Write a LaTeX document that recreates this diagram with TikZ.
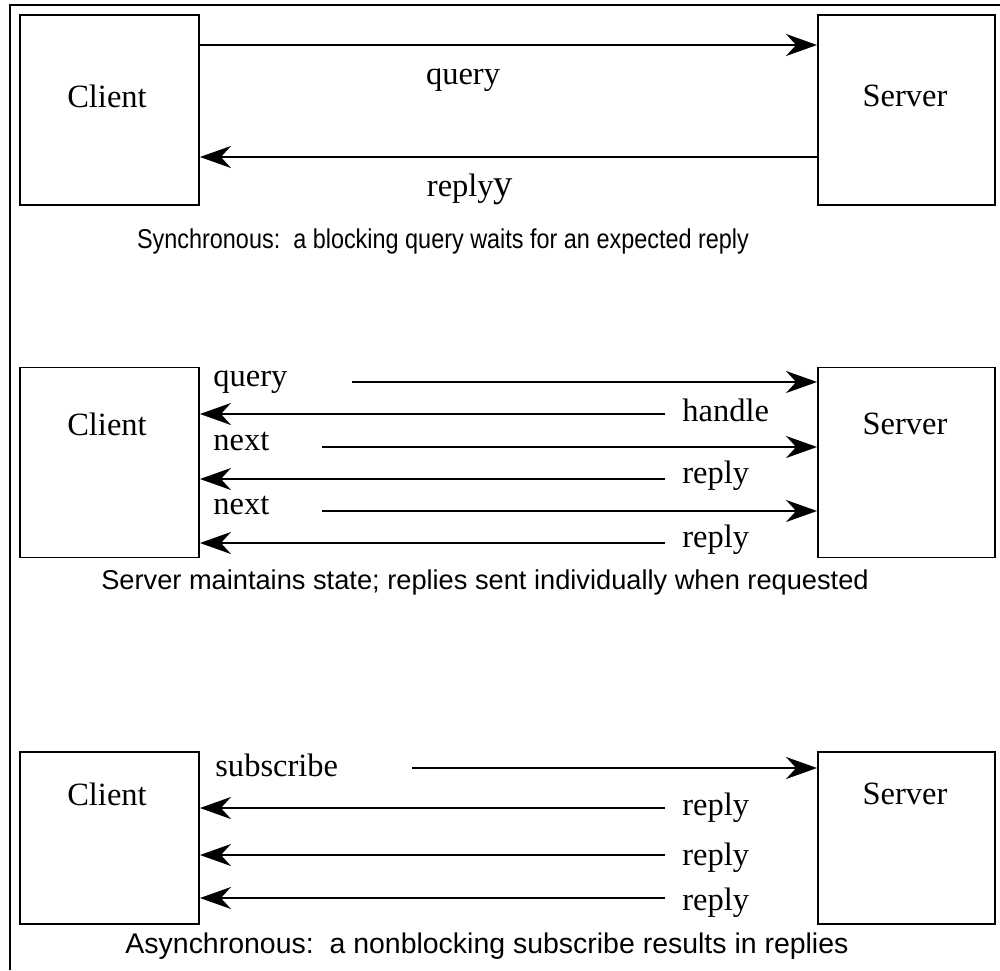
\documentclass[tikz,border=0pt]{standalone}
\usepackage{fontspec}
\setmainfont{Liberation Serif}
\setsansfont{Liberation Sans}
\usetikzlibrary{arrows.meta}
\tikzset{
	box/.style={draw, line width=1.1pt, minimum width=3.58cm, minimum height=3.8cm, inner sep=0pt},
	sbox/.style={box, minimum width=3.54cm},
	msg/.style={-{Stealth[length=0.62cm, width=0.44cm, inset=0.2cm]}, line width=1.1pt},
	lbl/.style={font=\fontsize{18.5}{22}\selectfont, inner sep=0pt},
	captext/.style={font=\sffamily\fontsize{15.5}{18}\selectfont, inner sep=0pt}
}

\begin{document}
\begin{tikzpicture}[x=0.02cm, y=-0.02cm]
			%%%%% START %%%%%
			\useasboundingbox (0, 0) rectangle (1000, 970);
			\draw[line width=1.1pt] (10, 970) -- (10, 5) -- (1000, 5);
			
			% synchronous
			\node[box] (c1) at (109.5, 110) {};
			\node[sbox] (s1) at (906.5, 110) {};
			\node[lbl] (c1t) at (107, 96) {Client};
			\node[lbl] (s1t) at (905, 96) {Server};
			\coordinate (a1) at (200, 45);
			\coordinate (b1) at (818, 157);
			\draw[msg] (c1.east |- a1) -- (s1.west |- a1);
			\draw[msg] (s1.west |- b1) -- (c1.east |- b1);
			\node[lbl] (q1) at (463, 80) {query};
			\node[lbl] (r1) at (470, 189) {reply{\fontsize{22}{26}\selectfont y}};
			\node[captext] (cap1) at (443, 241) {\scalebox{0.86}[1]{Synchronous:\ \ a blocking query waits for an expected reply}};
			
			% server state
			\node[box] (c2) at (109.5, 462.5) {};
			\node[sbox] (s2) at (906.5, 462.5) {};
			\node[lbl] (c2t) at (107, 424) {Client};
			\node[lbl] (s2t) at (905, 424) {Server};
			\coordinate (a2) at (352, 382);
			\coordinate (b2) at (665, 414);
			\coordinate (a3) at (322, 447);
			\coordinate (b3) at (665, 479);
			\coordinate (a4) at (322, 511);
			\coordinate (b4) at (665, 543);
			\draw[msg] (a2) -- (a2 -| s2.west);
			\draw[msg] (b2) -- (b2 -| c2.east);
			\draw[msg] (a3) -- (a3 -| s2.west);
			\draw[msg] (b3) -- (b3 -| c2.east);
			\draw[msg] (a4) -- (a4 -| s2.west);
			\draw[msg] (b4) -- (b4 -| c2.east);
			\node[lbl, anchor=west] (q2) at (213, 382) {query};
			\node[lbl, anchor=west] (h2) at (682, 410) {handle};
			\node[lbl, anchor=west] (n2) at (213, 442) {next};
			\node[lbl, anchor=west] (r2) at (682, 476) {reply};
			\node[lbl, anchor=west] (n3) at (213, 506) {next};
			\node[lbl, anchor=west] (r3) at (682, 540) {reply};
			\node[captext] (cap2) at (485, 582) {Server maintains state; replies sent individually when requested};
			
			% asynchronous
			\node[box, minimum height=3.44cm] (c3) at (109.5, 838) {};
			\node[sbox, minimum height=3.44cm] (s3) at (906.5, 838) {};
			\node[lbl] (c3t) at (107, 794) {Client};
			\node[lbl] (s3t) at (905, 794) {Server};
			\coordinate (a5) at (412, 768);
			\coordinate (b5) at (665, 808);
			\coordinate (b6) at (665, 855);
			\coordinate (b7) at (665, 898);
			\draw[msg] (a5) -- (a5 -| s3.west);
			\draw[msg] (b5) -- (b5 -| c3.east);
			\draw[msg] (b6) -- (b6 -| c3.east);
			\draw[msg] (b7) -- (b7 -| c3.east);
			\node[lbl, anchor=west] (sub) at (215, 765) {subscribe};
			\node[lbl, anchor=west] (r4) at (682, 808) {reply};
			\node[lbl, anchor=west] (r5) at (682, 858) {reply};
			\node[lbl, anchor=west] (r6) at (682, 903) {reply};
			\node[captext, font=\sffamily\fontsize{16.2}{19}\selectfont] (cap3) at (487, 946) {Asynchronous:\ \ a nonblocking subscribe results in replies};
			%%%%% END %%%%%
\end{tikzpicture}
\end{document}
